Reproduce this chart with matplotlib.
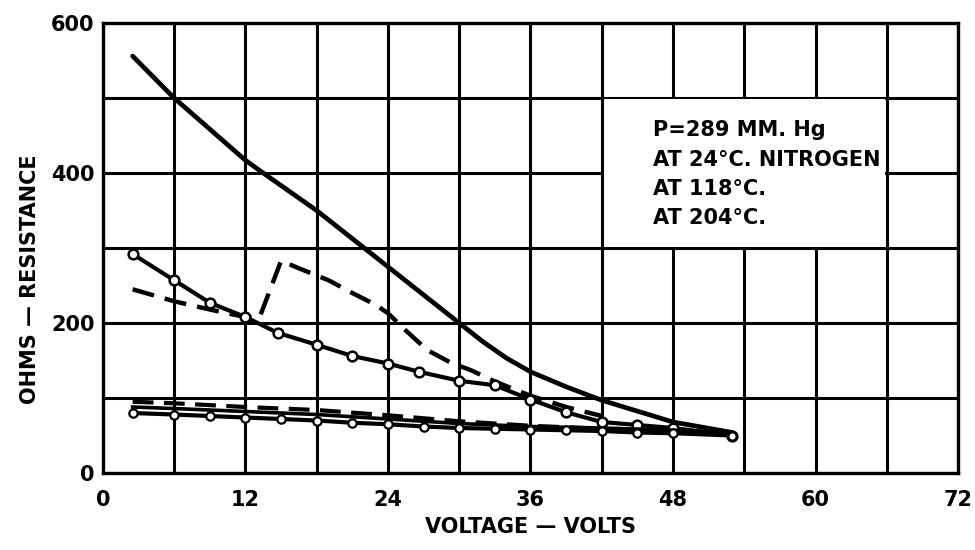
import matplotlib
matplotlib.use("Agg")
import matplotlib.pyplot as plt
from matplotlib.patches import Rectangle

plt.rcParams['font.family'] = ['DejaVu Sans']
plt.rcParams['font.weight'] = 'bold'

# upper solid curve (no markers)
v_a = [2.5, 6, 12, 13.5, 18, 22, 24, 30, 32, 34, 36, 39, 42, 48, 53]
r_a = [556, 500, 417, 400, 350, 300, 275, 200, 175, 153, 135, 115, 97, 68, 54]

# upper dashed curve with the jump near 14 V
v_b = [2.5, 6, 9, 12, 13.2, 15, 16.5, 19, 21, 23, 24, 25.5, 27.3, 29.3, 31, 33, 36, 39, 42]
r_b = [245, 229, 218, 208, 208, 283, 273, 257, 240, 224, 213, 190, 164, 147, 137, 122, 103, 88, 76]

# upper curve with open circles
v_c = [2.5, 6, 9, 12, 14.7, 18, 21, 24, 26.6, 30, 33, 36, 39, 42, 45, 48, 53]
r_c = [292, 257, 227, 208, 187, 171, 156, 146, 135, 123, 117, 98, 81, 68, 64, 60, 50]

# lower group
v_d = [2.5, 6, 12, 18, 24, 30, 36, 42, 48, 53]
r_d = [95, 93, 88, 84, 77, 69, 63, 59, 56, 53]

v_e = [2.5, 6, 12, 18, 24, 30, 36, 42, 48, 53]
r_e = [88, 86, 82, 78, 72, 66, 62, 60, 57, 54]

v_f = [2.5, 6, 9, 12, 15, 18, 21, 24, 27, 30, 33, 36, 39, 42, 45, 48, 53]
r_f = [80, 78, 76, 74, 72, 70, 67, 65, 62, 60, 59, 58, 57, 56, 54, 53, 50]

legend_lines = ["P=289 MM. Hg", "AT 24°C. NITROGEN", "AT 118°C.", "AT 204°C."]

fig = plt.figure(figsize=(9.75, 5.5), dpi=100)
ax = fig.add_axes([0.1056, 0.14, 0.877, 0.818])

ax.set_xlim(0, 72)
ax.set_ylim(0, 600)
ax.set_xticks(range(0, 73, 6))
ax.set_xticklabels([str(v) if v % 12 == 0 else '' for v in range(0, 73, 6)])
ax.set_yticks(range(0, 601, 100))
ax.set_yticklabels([str(v) if v % 200 == 0 else '' for v in range(0, 601, 100)])
ax.tick_params(length=0, labelsize=15)
ax.tick_params(axis='x', pad=12)
ax.tick_params(axis='y', pad=6)
ax.set_axisbelow(True)
ax.grid(True, color='black', linewidth=2.2, zorder=0.5)
for sp in ax.spines.values():
    sp.set_linewidth(2.4)

# blank patch behind the caption
ax.add_patch(Rectangle((42.15, 301.5), 23.7, 197, facecolor='white',
                       edgecolor='none', zorder=1))

dash = (0, (5, 2.5))
ax.plot(v_a, r_a, color='black', lw=3.4, solid_capstyle='round',
        solid_joinstyle='round', zorder=3)
ax.plot(v_b, r_b, color='black', lw=3.2, linestyle=dash, zorder=3)
ax.plot(v_c, r_c, color='black', lw=3.0, marker='o', ms=7, mfc='white',
        mec='black', mew=1.8, zorder=3)
ax.plot(v_d, r_d, color='black', lw=3.0, linestyle=dash, zorder=3)
ax.plot(v_e, r_e, color='black', lw=2.6, zorder=3)
ax.plot(v_f, r_f, color='black', lw=3.0, marker='o', ms=6, mfc='white',
        mec='black', mew=1.6, zorder=3)

for i, line in enumerate(legend_lines):
    ax.text(46.3, 457 - i * 39, line, fontsize=15, fontweight='bold',
            va='center', ha='left', zorder=4)

ax.set_xlabel('VOLTAGE — VOLTS', fontsize=15, fontweight='bold', labelpad=5)
ax.set_ylabel('OHMS — RESISTANCE', fontsize=15, fontweight='bold')
ax.yaxis.set_label_coords(-0.074, 0.43)

fig.savefig('out.png', dpi=100)
